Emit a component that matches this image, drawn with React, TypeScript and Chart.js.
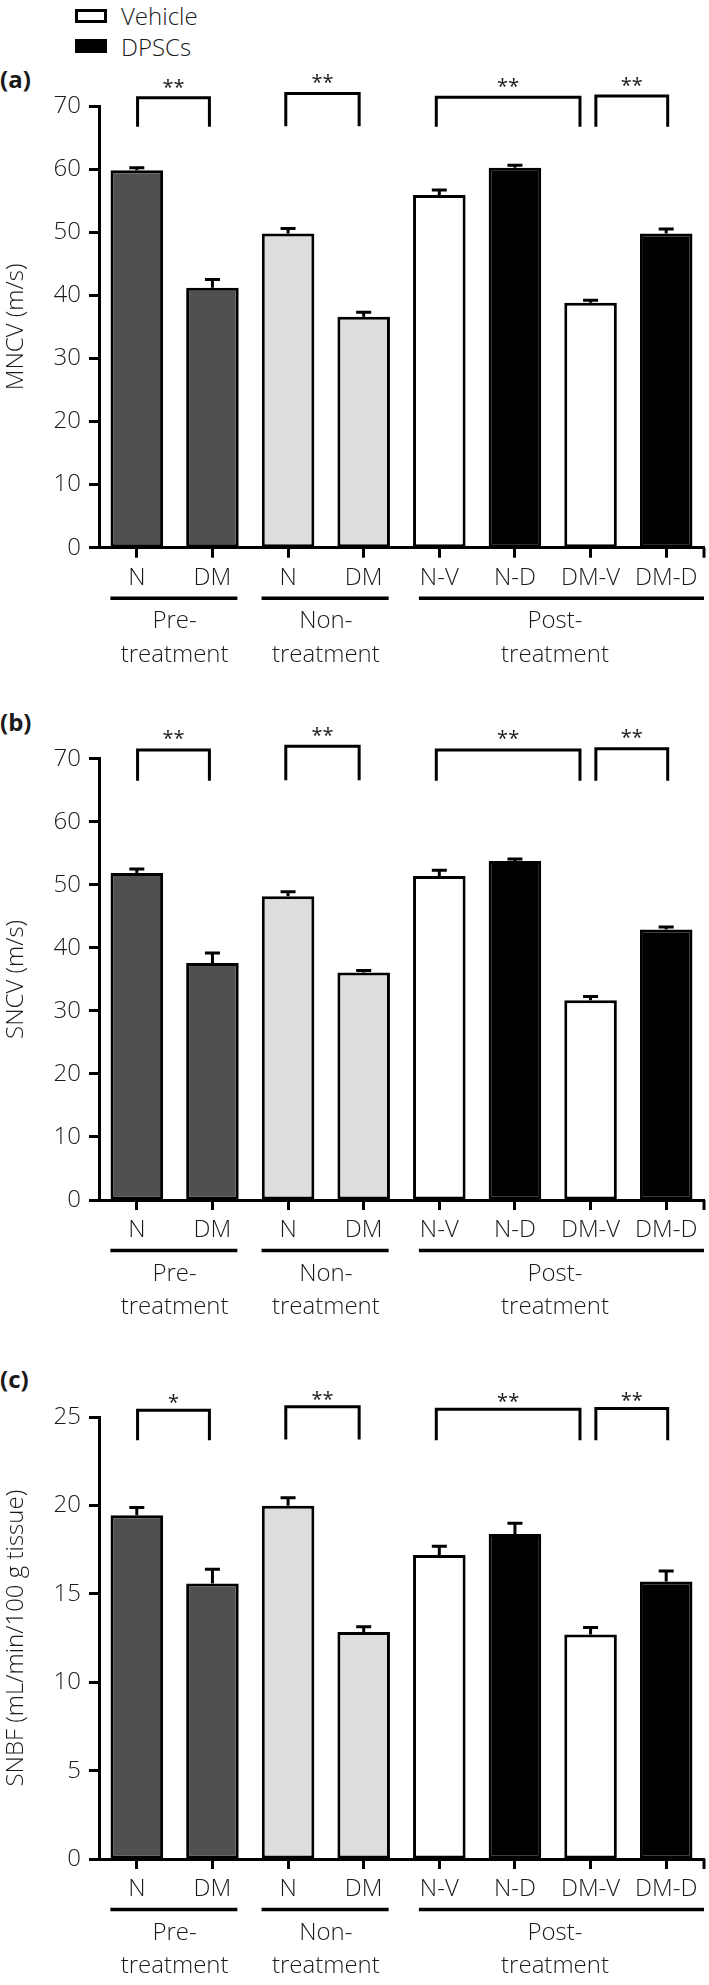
import React, { useEffect, useRef } from 'react';
import { Chart, registerables } from 'chart.js';

Chart.register(...registerables);

// ---------- data ----------
const categories = ['N', 'DM', 'N', 'DM', 'N-V', 'N-D', 'DM-V', 'DM-D'];
const barColors = ['#505050', '#505050', '#dddddd', '#dddddd', '#ffffff', '#000000', '#ffffff', '#000000'];

const mncvValues = [59.8, 41.2, 49.8, 36.6, 55.9, 60.2, 38.8, 49.8];
const mncvErrors = [0.4, 1.3, 0.8, 0.7, 0.8, 0.4, 0.4, 0.7];

const sncvValues = [51.9, 37.6, 48.2, 36.1, 51.4, 53.8, 31.7, 42.9];
const sncvErrors = [0.6, 1.6, 0.7, 0.3, 0.9, 0.3, 0.6, 0.4];

const snbfValues = [19.45, 15.6, 20.0, 12.85, 17.2, 18.4, 12.7, 15.7];
const snbfErrors = [0.45, 0.8, 0.45, 0.3, 0.5, 0.6, 0.4, 0.6];

const velocityTicks = [0, 10, 20, 30, 40, 50, 60, 70];
const flowTicks = [0, 5, 10, 15, 20, 25];

const groupFirstLines = ['Pre-', 'Non-', 'Post-'];
const groupSecondLines = ['treatment', 'treatment', 'treatment'];
const groupStart = [-0.35, 1.65, 3.73];
const groupEnd = [1.33, 3.33, 7.5];
const groupCenter = [0.5, 2.5, 5.53];

// significance brackets (category index positions)
const bracketFrom = [0.01, 1.97, 3.96, 6.07];
const bracketTo = [0.96, 2.94, 5.86, 7.02];
const mncvBracketTop = [71.3, 72.0, 71.4, 71.6];
const mncvBracketLeg = [66.7, 66.8, 66.7, 66.7];
const mncvStars = ['**', '**', '**', '**'];
const sncvBracketTop = [71.4, 72.0, 71.4, 71.6];
const sncvBracketLeg = [66.5, 66.6, 66.5, 66.5];
const sncvStars = ['**', '**', '**', '**'];
const snbfBracketTop = [25.4, 25.6, 25.45, 25.5];
const snbfBracketLeg = [23.7, 23.75, 23.7, 23.7];
const snbfStars = ['*', '**', '**', '**'];

const FONT = "'Open Sans', 'DejaVu Sans', sans-serif";
const TEXT = '#1a1a1a';

type PanelProps = {
  top: number;
  height: number;
  padTop: number;
  xHeight: number;
  values: number[];
  errors: number[];
  ticks: number[];
  title: string;
  bTop: number[];
  bLeg: number[];
  stars: string[];
  starGap: number;
};

function Panel(p: PanelProps) {
  const ref = useRef<HTMLCanvasElement>(null);
  useEffect(() => {
    const canvas = ref.current;
    if (!canvas) return;
    const annotate = {
      id: 'annotate',
      afterDraw(chart: any) {
        const ctx = chart.ctx as CanvasRenderingContext2D;
        const xs = chart.scales.x;
        const ys = chart.scales.y;
        const y0 = chart.chartArea.bottom;
        ctx.save();
        ctx.strokeStyle = '#000';
        ctx.fillStyle = TEXT;
        ctx.lineWidth = 3;
        ctx.lineCap = 'butt';
        ctx.lineJoin = 'miter';
        // error bars
        p.values.forEach((v, i) => {
          const x = xs.getPixelForValue(i);
          const yt = ys.getPixelForValue(v);
          const ye = ys.getPixelForValue(v + p.errors[i]);
          ctx.beginPath();
          ctx.moveTo(x, yt);
          ctx.lineTo(x, ye);
          ctx.moveTo(x - 7.5, ye);
          ctx.lineTo(x + 7.5, ye);
          ctx.stroke();
        });
        // brackets
        ctx.font = `400 20px ${FONT}`;
        ctx.textAlign = 'center';
        ctx.textBaseline = 'alphabetic';
        bracketFrom.forEach((f, i) => {
          const xl = xs.getPixelForValue(f);
          const xr = xs.getPixelForValue(bracketTo[i]);
          const yt = ys.getPixelForValue(p.bTop[i]);
          const yl = ys.getPixelForValue(p.bLeg[i]);
          ctx.beginPath();
          ctx.moveTo(xl, yl);
          ctx.lineTo(xl, yt);
          ctx.lineTo(xr, yt);
          ctx.lineTo(xr, yl);
          ctx.stroke();
          ctx.fillText(p.stars[i], (xl + xr) / 2, yt - p.starGap + 11);
        });
        // right end tick of x axis
        ctx.beginPath();
        ctx.moveTo(chart.chartArea.right, y0);
        ctx.lineTo(chart.chartArea.right, y0 + 10);
        ctx.stroke();
        // group lines and labels
        ctx.lineWidth = 3.5;
        ctx.font = `300 24px ${FONT}`;
        groupStart.forEach((s, i) => {
          const xa = xs.getPixelForValue(s);
          const xb = xs.getPixelForValue(groupEnd[i]);
          const ly = y0 + 50.6;
          ctx.beginPath();
          ctx.moveTo(xa, ly);
          ctx.lineTo(xb, ly);
          ctx.stroke();
          const xc = xs.getPixelForValue(groupCenter[i]);
          ctx.fillText(groupFirstLines[i], xc, y0 + 80.6);
          ctx.fillText(groupSecondLines[i], xc, y0 + 114);
        });
        ctx.restore();
      },
    };

    const chart = new Chart(canvas, {
      type: 'bar',
      data: {
        labels: categories,
        datasets: [
          {
            data: p.values,
            backgroundColor: barColors,
            borderColor: '#000',
            borderWidth: 3,
            borderSkipped: false,
            barPercentage: 0.695,
            categoryPercentage: 1,
          },
        ],
      },
      options: {
        animation: false,
        responsive: false,
        devicePixelRatio: 1,
        layout: { padding: { top: p.padTop, left: 0, right: 5, bottom: 0 } },
        plugins: { legend: { display: false }, tooltip: { enabled: false } },
        scales: {
          x: {
            offset: true,
            grid: {
              display: true,
              offset: false,
              drawOnChartArea: false,
              drawTicks: true,
              tickLength: 10,
              tickWidth: 3,
              tickColor: '#000',
            },
            border: { display: true, color: '#000', width: 3 },
            ticks: {
              color: TEXT,
              font: { family: FONT, size: 24, weight: '300' as any },
              padding: 6,
              maxRotation: 0,
              autoSkip: false,
            },
            afterFit: (s: any) => {
              s.height = p.xHeight;
            },
          },
          y: {
            min: 0,
            max: p.ticks[p.ticks.length - 1],
            afterBuildTicks: (s: any) => {
              s.ticks = p.ticks.map((v) => ({ value: v }));
            },
            grid: {
              display: true,
              drawOnChartArea: false,
              drawTicks: true,
              tickLength: 10,
              tickWidth: 3,
              tickColor: '#000',
            },
            border: { display: true, color: '#000', width: 3 },
            ticks: {
              color: TEXT,
              font: { family: FONT, size: 24, weight: '300' as any },
              padding: 8,
            },
            title: {
              display: true,
              text: p.title,
              color: TEXT,
              font: { family: FONT, size: 24, weight: '300' as any },
              padding: { top: 2, bottom: 0 },
            },
            afterFit: (s: any) => {
              s.width = 99;
            },
          },
        },
      },
      plugins: [annotate],
    });
    return () => {
      chart.destroy();
    };
  }, []);
  return (
    <canvas
      ref={ref}
      width={709}
      height={p.height}
      style={{ position: 'absolute', left: 0, top: p.top, width: 709, height: p.height }}
    />
  );
}

const textStyle: React.CSSProperties = {
  position: 'absolute',
  fontFamily: FONT,
  fontSize: 24,
  lineHeight: '24px',
  fontWeight: 300,
  color: TEXT,
  whiteSpace: 'nowrap',
  margin: 0,
};

export default function App() {
  return (
    <div style={{ position: 'absolute', left: 0, top: 0, width: 709, height: 1985, background: '#fff' }}>
      {/* legend */}
      <div style={{ position: 'absolute', left: 75, top: 9, width: 32, height: 14, boxSizing: 'border-box', border: '3.5px solid #000', background: '#fff' }} />
      <div style={{ ...textStyle, left: 121, top: 3.7 }}>Vehicle</div>
      <div style={{ position: 'absolute', left: 75, top: 39, width: 32, height: 14, background: '#000' }} />
      <div style={{ ...textStyle, left: 121, top: 35.4 }}>DPSCs</div>

      <div style={{ ...textStyle, left: 0, top: 66.7, fontWeight: 700 }}>(a)</div>
      <div style={{ ...textStyle, left: 0, top: 709.7, fontWeight: 700 }}>(b)</div>
      <div style={{ ...textStyle, left: 0, top: 1366.7, fontWeight: 700 }}>(c)</div>

      <Panel
        top={60}
        height={620}
        padTop={46}
        xHeight={132.3}
        values={mncvValues}
        errors={mncvErrors}
        ticks={velocityTicks}
        title="MNCV (m/s)"
        bTop={mncvBracketTop}
        bLeg={mncvBracketLeg}
        stars={mncvStars}
        starGap={15}
      />
      <Panel
        top={700}
        height={630}
        padTop={58.8}
        xHeight={130}
        values={sncvValues}
        errors={sncvErrors}
        ticks={velocityTicks}
        title="SNCV (m/s)"
        bTop={sncvBracketTop}
        bLeg={sncvBracketLeg}
        stars={sncvStars}
        starGap={15.5}
      />
      <Panel
        top={1360}
        height={625}
        padTop={57.3}
        xHeight={126}
        values={snbfValues}
        errors={snbfErrors}
        ticks={flowTicks}
        title="SNBF (mL/min/100 g tissue)"
        bTop={snbfBracketTop}
        bLeg={snbfBracketLeg}
        stars={snbfStars}
        starGap={12}
      />
    </div>
  );
}
